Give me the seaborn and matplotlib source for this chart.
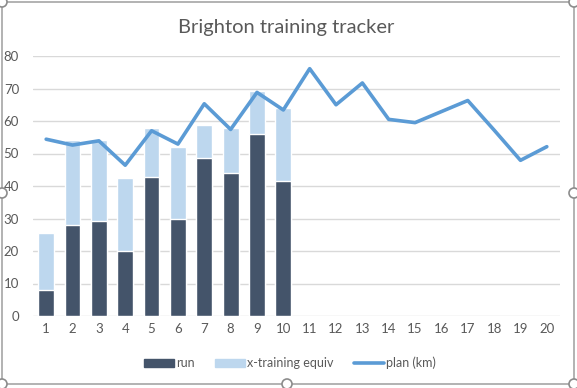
import matplotlib
matplotlib.use("Agg")
import matplotlib.pyplot as plt
import seaborn as sns
import pandas as pd
import numpy as np
from matplotlib.patches import Rectangle, Ellipse
from matplotlib.lines import Line2D

weeks = list(range(1, 21))
run_weeks = list(range(1, 11))
run = [8.0, 28.0, 29.3, 20.0, 42.9, 29.7, 48.5, 43.9, 56.0, 41.4]
xtrain = [17.4, 26.1, 24.8, 22.5, 14.8, 22.4, 10.3, 14.1, 13.1, 22.5]
plan = [54.4, 52.6, 53.9, 46.4, 57.0, 52.9, 65.3, 57.4, 68.8, 63.4,
        76.1, 65.0, 71.7, 60.5, 59.5, 62.9, 66.3, 57.2, 47.9, 52.1]

title = "Brighton training tracker"
c_run = "#44546A"
c_x = "#BDD7EE"
c_plan = "#5B9BD5"
grey = "#595959"

sns.set_theme(style="white")
plt.rcParams['font.family'] = ['Lato', 'DejaVu Sans']

bars = pd.DataFrame({"week": run_weeks, "run": run,
                     "total": [r + x for r, x in zip(run, xtrain)]})
line = pd.DataFrame({"week": weeks, "plan": plan})

W, H = 577, 388
fig = plt.figure(figsize=(W / 100, H / 100), dpi=100)
ax = fig.add_axes([33 / W, 1 - 316 / H, (560 - 33) / W, (316 - 56) / H])

sns.barplot(data=bars, x="week", y="total", color=c_x, native_scale=True,
            width=0.6, saturation=1, ax=ax, zorder=2)
sns.barplot(data=bars, x="week", y="run", color=c_run, native_scale=True,
            width=0.6, saturation=1, ax=ax, zorder=3)
sns.lineplot(data=line, x="week", y="plan", color=c_plan, linewidth=2.6,
             ax=ax, zorder=4)

ax.set_xlim(0.5, 20.5)
ax.set_ylim(0, 80)
ax.set_xticks(weeks)
ax.set_xticklabels([str(w) for w in weeks])
ax.set_yticks(range(0, 81, 10))
ax.yaxis.grid(True, color="#D9D9D9", linewidth=1)
ax.set_axisbelow(True)
for s in ax.spines.values():
    s.set_visible(False)
ax.tick_params(axis="both", length=0, labelsize=9.5, colors=grey)
ax.tick_params(axis="y", pad=10)
ax.tick_params(axis="x", pad=5)
ax.set_xlabel("")
ax.set_ylabel("")

fig.text(286 / W, 1 - 27 / H, title, ha="center", va="center",
         fontsize=14.5, color=grey)

handles = [Rectangle((0, 0), 1, 1, color=c_run),
           Rectangle((0, 0), 1, 1, color=c_x),
           Line2D([0], [0], color=c_plan, linewidth=2.6)]
fig.legend(handles, ["run", "x-training equiv", "plan (km)"],
           loc="center", bbox_to_anchor=(290 / W, 1 - 363 / H), ncol=3,
           frameon=False, fontsize=9, handlelength=2.4, handleheight=0.55,
           handletextpad=0.2, columnspacing=1.6, labelcolor=grey)

# chart border with selection handles
fig.patches.append(Rectangle((2 / W, 1 - 384 / H), 572 / W, 382 / H,
                             transform=fig.transFigure, fill=False,
                             edgecolor="#A6A6A6", linewidth=1.2))
for hx, hy in [(2, 2), (574, 2), (2, 193), (574, 193), (2, 384), (287, 384), (574, 384)]:
    fig.patches.append(Ellipse((hx / W, 1 - hy / H), 10 / W, 10 / H,
                               transform=fig.transFigure, facecolor="white",
                               edgecolor="#8C8C8C", linewidth=1.2, zorder=10))

fig.savefig("out.png", dpi=100, facecolor="white")
